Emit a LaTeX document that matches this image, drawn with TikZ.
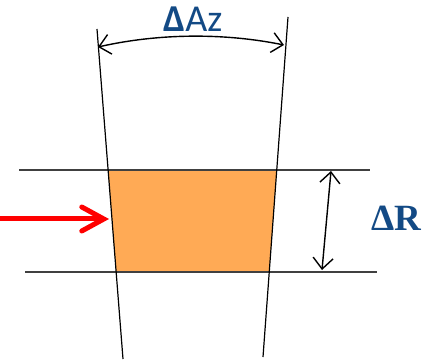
\documentclass[tikz,border=0pt]{standalone}
\usepackage{fontspec}
\setmainfont{Carlito}
\newfontfamily\serifbold{Liberation Serif}
\usetikzlibrary{positioning,arrows.meta,calc}
\definecolor{azul}{HTML}{134A85}
\definecolor{naranja}{HTML}{FFAA55}
\definecolor{rojo}{HTML}{FF0000}
\definecolor{gris}{HTML}{404040}

\begin{document}
\begin{tikzpicture}[x=1pt,y=-1pt]
    \useasboundingbox (0,0) rectangle (436,363);
    % radial borders and range lines
    \coordinate (ltop) at (97,29);
    \coordinate (lbot) at (123,359);
    \coordinate (rtop) at (288,17);
    \coordinate (rbot) at (263,357);
    \fill[naranja] (108.1,170) -- (276.7,170) -- (269.3,272) -- (116.1,272) -- cycle;
    \draw[gris,line width=1.2pt] (19,170) -- (370,170);
    \draw[gris,line width=1.2pt] (25,272) -- (377,272);
    \draw[line width=1.2pt] (ltop) -- (lbot);
    \draw[line width=1.2pt] (rtop) -- (rbot);
    % azimuth arc
    \coordinate (azl) at (98,47);
    \coordinate (azr) at (284,45);
    \draw[{Straight Barb[length=11pt,width=20pt]}-{Straight Barb[length=11pt,width=20pt]},line width=1.4pt]
      (azl) .. controls (160,33) and (225,33) .. (azr);
    \node[text=azul,font=\fontsize{38}{38}\selectfont] (az) at (193,19) {\textbf{Δ}Az};
    % range arrow
    \coordinate (rup) at (331,171);
    \coordinate (rdn) at (322,270);
    \draw[{Straight Barb[length=11pt,width=20pt]}-{Straight Barb[length=11pt,width=20pt]},line width=1.4pt] (rup) -- (rdn);
    \node[text=azul,font=\serifbold\bfseries\fontsize{37}{37}\selectfont] (dr) at (396,218) {ΔR};
    % incoming ray
    \coordinate (rin) at (0,219);
    \coordinate (rtip) at (109,219);
    \draw[-{Straight Barb[length=22pt,width=24pt,line cap=round]},rojo,line width=5pt,line cap=round] (rin) -- (rtip);
  \end{tikzpicture}
\end{document}
